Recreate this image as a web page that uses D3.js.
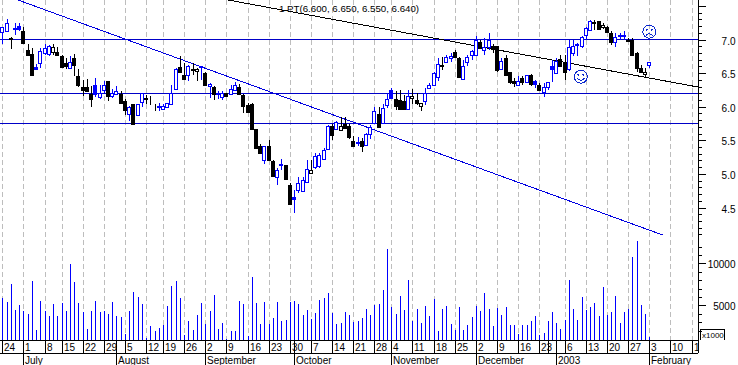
<!doctype html>
<html lang="en">
	<head>
		<meta charset="utf-8"/>
		<style>
			html, body { margin: 0; padding: 0; background: #fff; }
			svg { display: block; }
			text { font-family: "Liberation Sans", Arial, sans-serif; font-size: 10px; fill: #000; }
		</style>
	</head>

	<body>
		<script src="https://d3js.org/d3.v7.min.js"></script>
		<div id="chart"></div>
		<script>

			// daily candles
			var opens = [
				7.10,7.12,7.02,7.16,7.20,7.13,6.85,6.79,6.59,6.65,
				6.80,6.79,6.81,6.81,6.76,6.65,6.58,6.72,6.45,6.29,
				6.30,6.19,6.32,6.14,6.26,6.38,6.16,6.19,6.19,6.08,
				5.88,6.04,5.87,6.06,6.13,6.09,6.00,6.00,5.96,5.99,
				6.03,6.26,6.59,6.47,6.47,6.56,6.53,6.60,6.50,6.31,
				6.29,6.20,6.15,6.20,6.19,6.25,6.29,6.18,6.03,6.04,
				5.67,5.42,5.20,5.42,5.19,4.95,5.13,5.13,4.84,4.65,
				4.76,4.74,4.88,5.01,5.10,5.11,5.22,5.38,5.71,5.67,
				5.65,5.74,5.71,5.49,5.46,5.49,5.43,5.59,5.75,5.89,
				5.76,6.02,6.25,6.11,6.10,6.09,5.97,6.13,6.10,6.01,
				6.08,6.29,6.32,6.44,6.62,6.67,6.73,6.81,6.72,6.42,
				6.67,6.77,6.78,6.97,6.85,6.89,6.91,6.91,6.56,6.72,
				6.51,6.38,6.32,6.42,6.37,6.47,6.38,6.32,6.22,6.29,
				6.61,6.50,6.71,6.66,6.56,6.80,6.93,6.91,7.06,7.14,
				7.26,7.27,7.19,7.18,7.10,6.97,7.06,7.06,7.00,7.00,
				6.80,6.58,6.49,6.61
			];
			var closes = [
				7.18,7.24,7.01,7.17,7.16,6.95,6.78,6.48,6.56,6.83,
				6.87,6.91,6.89,6.76,6.60,6.60,6.67,6.61,6.31,6.24,
				6.24,6.11,6.18,6.20,6.33,6.15,6.21,6.23,6.06,5.94,
				5.99,5.74,6.04,6.20,6.12,6.09,6.00,6.01,6.01,6.05,
				6.20,6.56,6.51,6.41,6.60,6.55,6.56,6.61,6.32,6.34,
				6.18,6.21,6.21,6.15,6.27,6.32,6.19,6.01,5.93,5.67,
				5.39,5.32,5.41,5.21,4.96,5.06,5.14,4.92,4.55,4.62,
				4.87,4.91,5.08,5.06,5.27,5.28,5.36,5.72,5.57,5.77,
				5.71,5.68,5.54,5.41,5.47,5.42,5.59,5.70,5.93,5.70,
				5.98,6.11,6.13,6.01,5.97,5.97,6.16,6.16,6.06,6.05,
				6.20,6.33,6.50,6.63,6.60,6.74,6.76,6.73,6.43,6.61,
				6.74,6.83,7.00,6.88,6.89,7.00,6.86,6.55,6.68,6.47,
				6.36,6.35,6.38,6.36,6.47,6.34,6.34,6.24,6.29,6.37,
				6.56,6.68,6.61,6.51,6.89,6.91,6.94,7.04,7.17,7.28,
				7.24,7.15,7.22,7.10,6.96,7.04,7.07,7.07,6.98,6.77,
				6.58,6.52,6.52,6.66
			];
			var highs = [
				7.18,7.30,7.03,7.25,7.25,7.19,6.93,6.88,6.63,6.88,
				6.93,6.92,6.94,6.89,6.77,6.72,6.75,6.78,6.56,6.40,
				6.41,6.31,6.42,6.32,6.38,6.38,6.26,6.31,6.24,6.11,
				6.01,6.04,6.04,6.20,6.18,6.16,6.04,6.05,6.04,6.05,
				6.32,6.57,6.76,6.65,6.62,6.65,6.57,6.61,6.51,6.35,
				6.31,6.24,6.23,6.21,6.32,6.37,6.34,6.19,6.05,6.05,
				5.67,5.45,5.42,5.51,5.20,5.09,5.22,5.13,4.87,4.76,
				4.96,4.96,5.21,5.21,5.31,5.31,5.38,5.73,5.74,5.78,
				5.84,5.84,5.75,5.56,5.55,5.53,5.61,5.73,6.00,6.00,
				6.04,6.20,6.28,6.23,6.25,6.18,6.25,6.26,6.20,6.05,
				6.28,6.35,6.52,6.72,6.74,6.77,6.80,6.85,6.74,6.70,
				6.77,6.85,7.05,7.00,7.02,7.09,6.94,6.91,6.72,6.77,
				6.52,6.42,6.45,6.45,6.47,6.49,6.40,6.35,6.35,6.37,
				6.70,6.72,6.77,6.77,6.99,7.00,6.95,7.05,7.19,7.29,
				7.29,7.28,7.24,7.20,7.12,7.09,7.10,7.13,7.02,7.02,
				6.81,6.62,6.57,6.66
			];
			var lows = [
				6.93,7.12,6.86,7.07,7.12,6.93,6.75,6.47,6.56,6.57,
				6.77,6.75,6.77,6.75,6.57,6.56,6.57,6.45,6.30,6.16,
				6.23,5.99,6.15,6.11,6.20,6.08,6.13,6.18,6.05,5.88,
				5.78,5.74,5.87,6.00,6.04,6.03,5.94,5.94,5.95,5.98,
				6.02,6.25,6.50,6.40,6.38,6.47,6.38,6.40,6.31,6.13,
				6.10,6.12,6.10,6.15,6.18,6.23,6.17,5.91,5.91,5.66,
				5.39,5.32,5.15,5.21,4.96,4.83,5.06,4.91,4.55,4.42,
				4.71,4.73,4.87,5.00,5.07,5.09,5.22,5.38,5.51,5.66,
				5.65,5.68,5.52,5.41,5.42,5.32,5.41,5.52,5.75,5.68,
				5.75,5.98,6.12,5.95,5.95,5.95,5.95,6.04,6.03,5.94,
				6.03,6.28,6.31,6.38,6.55,6.65,6.67,6.72,6.43,6.42,
				6.61,6.70,6.77,6.87,6.77,6.85,6.80,6.52,6.55,6.46,
				6.34,6.29,6.31,6.32,6.35,6.31,6.28,6.23,6.14,6.25,
				6.37,6.49,6.61,6.40,6.53,6.75,6.75,6.88,7.00,7.14,
				7.14,7.14,7.15,7.09,6.92,6.89,6.99,7.00,6.97,6.77,
				6.51,6.51,6.44,6.57
			];
			// 1 = closed above the day before (blue), 0 = closed below (black)
			var closedUp = [
				1,1,0,1,1,0,0,0,1,1,
				1,1,0,0,0,0,1,0,0,0,
				0,0,1,1,1,0,1,1,0,0,
				1,0,1,1,0,0,0,1,1,1,
				1,1,0,0,1,0,0,1,0,1,
				0,1,1,0,1,1,0,0,0,0,
				0,0,1,0,0,1,1,0,0,1,
				1,1,1,0,1,1,1,1,0,1,
				0,0,0,0,1,0,1,1,1,0,
				1,1,1,0,0,0,1,0,0,0,
				1,1,1,1,0,1,1,0,0,1,
				1,1,1,0,1,1,0,0,1,0,
				0,0,1,0,1,0,1,0,1,1,
				1,1,0,0,1,1,1,1,1,1,
				0,0,0,0,0,1,1,1,0,0,
				0,0,0,1
			];
			var volumes = [
				5880,5400,7560,4440,5040,4320,3960,7920,2040,5520,
				4320,3720,5160,3720,5280,4320,9960,7800,5280,4200,
				2160,4320,5520,4200,4320,3960,5400,3720,3600,1560,
				4320,6600,6000,5160,1080,2520,1920,2280,2640,4920,
				7320,7920,5880,1440,3120,2040,3840,5280,2760,4320,
				6240,2160,2880,980,1920,1920,5520,5160,1320,8400,
				5280,2760,5400,2760,3480,5400,3120,3240,5400,5520,
				5160,3840,4440,3360,4080,5640,5880,6480,4080,2760,
				2880,4200,3840,3000,3120,3480,4560,3840,5040,5160,
				6840,11760,4800,3960,6120,4440,8040,3120,4560,2880,
				4920,3720,5760,1920,4560,4920,2760,2040,4800,2040,
				2640,3600,4920,4320,6480,4560,2520,4680,3840,4800,
				2640,2640,1560,2640,2640,3120,3720,1440,1680,3120,
				4200,2880,2160,3240,8040,4560,3240,6000,4440,4800,
				5280,3720,7200,3840,4200,6120,2880,4200,4560,10800,
				12600,5040,3960,1200
			];

			// date rows
			var weekBars   = [0,5,10,14,19,24,29,34,38,43,48,53,58,63,68,73,78,83,88,92,97,102,107,112,117,122,127,129,133,138,143,148,153,158,163];
			var weekLabels = ["24","1","8","15","22","29","5","12","19","26","2","9","16","23","30","7","14","21","28","4","11","18","25","2","9","16","23","","6","13","20","27","3","10","17"];
			var monthBars   = [5,27,48,69,92,112,131,153];
			var monthLabels = ["July","August","September","October","November","December","2003","February"];

			// right hand scales
			var priceMajor = [7.5,7,6.5,6,5.5,5,4.5];
			var priceMinor = [7.4,7.3,7.2,7.1,6.9,6.8,6.7,6.6,6.4,6.3,6.2,6.1,5.9,5.8,5.7,5.6,5.4,5.3,5.2,5.1,4.9,4.8,4.7,4.6,4.4,4.3,4.2,4.1];
			var volumeMajor = [10000,5000];
			var volumeMinor = [12000,11000,9000,8000,7000,6000,4000,3000,2000];

			// things drawn on top of the chart
			var levelPrices = [7.0,6.2,5.755];
			var blueTrendBars = [3.7,156.2];
			var blueTrendPrices = [7.588,4.09];
			var blackTrendBars = [53.4,164.5];
			var blackTrendPrices = [7.588,6.293];
			var smileBars = [136.8,153];
			var smilePrices = [6.446,7.116];
			var smileMoods = [1,-1];
			var studyLabel = "1 PT(6.600, 6.650, 6.550, 6.640)";

			var wd = 738;
			var ht = 365;
			var plotRight = 698;
			var volBottom = 340;
			var row1Bottom = 353;
			var blue = "#0000ff";
			var levelBlue = "#0000c8";
			var smileBlue = "#0a28d0";

			var bars = d3.range(opens.length);

			var x = d3.scaleLinear().domain([0,153]).range([2.3,649.3]);
			var y = d3.scaleLinear().domain([7,4.5]).range([39.5,207.5]);
			var yVol = d3.scaleLinear().domain([5000,10000]).range([305.3,263.3]);

			function px(i) { return Math.round(x(i)); }
			function crisp(v) { return Math.round(v) + 0.5; }

			var svg = d3.select("#chart").append("svg")
				.attr("width",wd)
				.attr("height",ht)
				.attr("viewBox","0 0 " + wd + " " + ht);

			svg.append("clipPath").attr("id","plotClip").append("rect")
				.attr("x",0).attr("y",0)
				.attr("width",plotRight).attr("height",ht);

			var crispG = svg.append("g").attr("shape-rendering","crispEdges");

			// weekly grid (no grid line on the short week at the turn of the year)
			crispG.append("g").selectAll("line")
				.data(weekBars.filter(function(d,i) {return weekLabels[i] !== "";}))
				.enter().append("line")
				.attr("x1",function(d) {return px(d) + 0.5;})
				.attr("x2",function(d) {return px(d) + 0.5;})
				.attr("y1",0)
				.attr("y2",volBottom)
				.attr("stroke","#bdbdbd")
				.attr("stroke-dasharray","5,3");

			// horizontal levels
			crispG.append("g").selectAll("line").data(levelPrices)
				.enter().append("line")
				.attr("x1",0)
				.attr("x2",plotRight)
				.attr("y1",function(d) {return crisp(y(d)-0.5);})
				.attr("y2",function(d) {return crisp(y(d)-0.5);})
				.attr("stroke",levelBlue);

			// trend lines
			function trend(trendBars,trendPrices,c) {
				crispG.append("line")
					.attr("x1",x(trendBars[0]))
					.attr("y1",y(trendPrices[0]))
					.attr("x2",x(trendBars[1]))
					.attr("y2",y(trendPrices[1]))
					.attr("stroke",c);
			}
			trend(blueTrendBars,blueTrendPrices,"#0000e0");
			trend(blackTrendBars,blackTrendPrices,"#000");

			// volume
			crispG.append("g").selectAll("line").data(bars)
				.enter().append("line")
				.attr("x1",function(i) {return px(i) + 0.5;})
				.attr("x2",function(i) {return px(i) + 0.5;})
				.attr("y1",volBottom)
				.attr("y2",function(i) {return Math.round(yVol(volumes[i]));})
				.attr("stroke",blue);

			// candles
			var candle = crispG.append("g").selectAll("g").data(bars)
				.enter().append("g");

			candle.append("line")
				.attr("x1",function(i) {return px(i) + 0.5;})
				.attr("x2",function(i) {return px(i) + 0.5;})
				.attr("y1",function(i) {return Math.round(y(highs[i]));})
				.attr("y2",function(i) {return Math.round(y(lows[i]));})
				.attr("stroke",function(i) {return closedUp[i] ? blue : "#000";});

			candle.append("rect")
				.attr("x",function(i) {return px(i) - 1.5;})
				.attr("width",3)
				.attr("y",function(i) {return crisp(y(Math.max(opens[i],closes[i])));})
				.attr("height",function(i) {return Math.round(Math.abs(y(opens[i]) - y(closes[i])));})
				.attr("fill",function(i) {
					if (closes[i] > opens[i]) {return "#fff";}
					return closedUp[i] ? blue : "#000";
				})
				.attr("stroke",function(i) {return closedUp[i] ? blue : "#000";});

			// smiley faces
			var face = svg.append("g").selectAll("g").data(smileBars)
				.enter().append("g")
				.attr("shape-rendering","crispEdges")
				.attr("transform",function(d,i) {return "translate(" + x(d) + "," + y(smilePrices[i]) + ")";});

			face.append("circle")
				.attr("r",6.5)
				.attr("fill","none")
				.attr("stroke",smileBlue);
			face.append("circle").attr("cx",-2.5).attr("cy",-2).attr("r",1).attr("fill",smileBlue);
			face.append("circle").attr("cx",2.5).attr("cy",-2).attr("r",1).attr("fill",smileBlue);
			face.append("path")
				.attr("d",function(d,i) {
					return smileMoods[i] > 0 ? "M-3.5,1.5Q0,5.5 3.5,1.5" : "M-3.5,4Q0,0 3.5,4";
				})
				.attr("fill","none")
				.attr("stroke",smileBlue);

			svg.append("text")
				.attr("x",279)
				.attr("y",12)
				.style("font-size","9.7px")
				.text(studyLabel);

			// price axis
			var priceAxis = d3.axisRight(y)
				.tickValues(priceMajor)
				.tickSize(7)
				.tickPadding(17)
				.tickFormat(function(d) {return d === 7.5 ? "" : d3.format(".1f")(d);});
			var priceMinorAxis = d3.axisRight(y)
				.tickValues(priceMinor)
				.tickSize(3)
				.tickFormat("");
			var volAxis = d3.axisRight(yVol)
				.tickValues(volumeMajor)
				.tickSize(7)
				.tickPadding(0)
				.tickFormat(d3.format("d"));
			var volMinorAxis = d3.axisRight(yVol)
				.tickValues(volumeMinor)
				.tickSize(3)
				.tickFormat("");

			var axisG = svg.append("g")
				.attr("transform","translate(" + (plotRight + 0.5) + ",0)");

			[priceAxis,priceMinorAxis,volAxis,volMinorAxis].forEach(function(a) {
				var g = axisG.append("g").call(a);
				g.select(".domain").remove();
				g.selectAll("line").attr("shape-rendering","crispEdges").attr("stroke","#000");
				g.selectAll("text").attr("font-size",null).attr("font-family",null);
				g.attr("font-size",null).attr("font-family",null);
			});

			// volume labels end at the same edge as the price labels
			axisG.selectAll("g g text")
				.attr("text-anchor","end")
				.attr("x",37)
				.attr("dy","0.45em");

			var frame = svg.append("g").attr("shape-rendering","crispEdges").attr("stroke","#000").attr("fill","none");
			frame.append("line").attr("x1",plotRight + 0.5).attr("x2",plotRight + 0.5).attr("y1",0).attr("y2",row1Bottom);
			frame.append("line").attr("x1",0).attr("x2",plotRight).attr("y1",volBottom + 0.5).attr("y2",volBottom + 0.5);
			frame.append("line").attr("x1",0).attr("x2",plotRight).attr("y1",row1Bottom + 0.5).attr("y2",row1Bottom + 0.5);
			frame.append("path").attr("d","M700.5,340V329.5H724.5V340");

			svg.append("text")
				.attr("x",702)
				.attr("y",337.5)
				.style("font-size","8px")
				.text("x1000");

			// date rows
			var dates = svg.append("g").attr("clip-path","url(#plotClip)");

			dates.selectAll(".weekTick").data(weekBars)
				.enter().append("line")
				.attr("class","weekTick")
				.attr("shape-rendering","crispEdges")
				.attr("x1",function(d) {return px(d) + 0.5;})
				.attr("x2",function(d) {return px(d) + 0.5;})
				.attr("y1",volBottom)
				.attr("y2",row1Bottom)
				.attr("stroke","#000");

			dates.selectAll(".monthTick").data(monthBars)
				.enter().append("line")
				.attr("class","monthTick")
				.attr("shape-rendering","crispEdges")
				.attr("x1",function(d) {return px(d) + 0.5;})
				.attr("x2",function(d) {return px(d) + 0.5;})
				.attr("y1",volBottom)
				.attr("y2",ht)
				.attr("stroke","#000");

			dates.selectAll(".weekLabel").data(weekBars)
				.enter().append("text")
				.attr("class","weekLabel")
				.attr("x",function(d) {return px(d) + 2;})
				.attr("y",351)
				.text(function(d,i) {return weekLabels[i];});

			dates.selectAll(".monthLabel").data(monthBars)
				.enter().append("text")
				.attr("class","monthLabel")
				.attr("x",function(d) {return px(d) + 2;})
				.attr("y",364)
				.text(function(d,i) {return monthLabels[i];});

		</script>
	</body>

</html>
